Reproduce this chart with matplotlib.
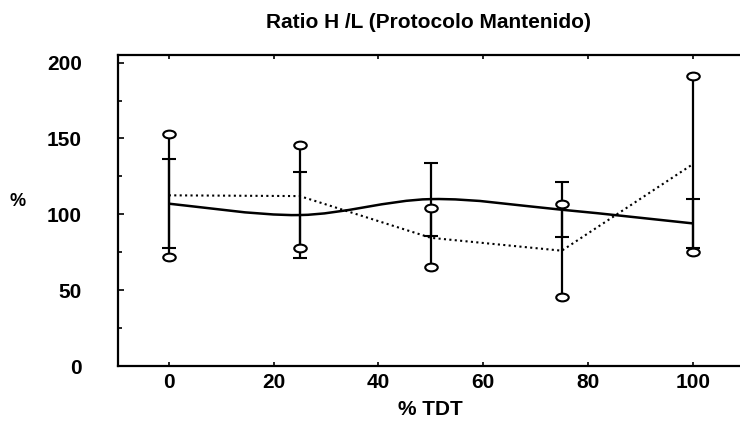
import numpy as np
import matplotlib
matplotlib.use("Agg")
from matplotlib import pyplot as plt
from matplotlib.path import Path
from matplotlib.patches import PathPatch
from matplotlib.transforms import Affine2D
from matplotlib.ticker import MultipleLocator

# % TDT
tdt = [0, 25, 50, 75, 100]

# serie continua (media y desviación)
ratio_a = [107, 99.5, 110, 103, 94]
sd_a = [29.5, 28.5, 24, 18, 16]

# serie punteada (media y desviación)
ratio_b = [112.5, 112, 84.5, 76, 133]
sd_b = [40.5, 34, 19.5, 30.5, 58]

x_ticks = [0, 20, 40, 60, 80, 100]
y_ticks = [0, 50, 100, 150, 200]

narrow = ['Liberation Sans Narrow', 'Liberation Sans', 'DejaVu Sans']
plt.rcParams['font.family'] = ['Liberation Sans', 'DejaVu Sans']


def smooth_path(xs, ys):
    # curva Catmull-Rom convertida en segmentos Bezier cúbicos
    p = np.column_stack([xs, ys]).astype(float)
    p = np.vstack([p[0], p, p[-1]])
    verts = [p[1]]
    codes = [Path.MOVETO]
    for i in range(1, len(p) - 2):
        c1 = p[i] + (p[i + 1] - p[i - 1]) / 6
        c2 = p[i + 1] - (p[i + 2] - p[i]) / 6
        verts += [c1, c2, p[i + 1]]
        codes += [Path.CURVE4] * 3
    return Path(verts, codes)


fig = plt.figure(figsize=(7.40, 4.21), dpi=100)
ax = fig.add_axes([118 / 740, 55 / 421, 624 / 740, 311 / 421])

# barras de la serie punteada, con óvalos en los extremos
oval = Path.unit_circle().transformed(Affine2D().scale(1, 0.62))
ax.errorbar(tdt, ratio_b, yerr=sd_b, fmt='none', ecolor='k', elinewidth=1.6, capsize=0, zorder=3)
ends_b = np.concatenate([np.array(ratio_b) - sd_b, np.array(ratio_b) + sd_b])
ax.plot(tdt + tdt, ends_b, linestyle='none', marker=oval, ms=9, mfc='white', mec='k', mew=1.5, zorder=4)

# barras de la serie continua, con remates horizontales
ax.errorbar(tdt, ratio_a, yerr=sd_a, fmt='none', ecolor='k', elinewidth=1.6,
            capsize=5, capthick=1.5, zorder=3)

ax.add_patch(PathPatch(smooth_path(tdt, ratio_a), fill=False, edgecolor='k', lw=1.8, zorder=2))
ax.plot(tdt, ratio_b, color='k', lw=1.5, linestyle=(0, (1, 1.6)), zorder=2)

ax.set_xlim(-9.7, 109.4)
ax.set_ylim(0, 205)
ax.set_xticks(x_ticks)
ax.set_yticks(y_ticks)
ax.yaxis.set_minor_locator(MultipleLocator(25))
ax.tick_params(axis='both', which='both', direction='in', top=True, width=1.2, color='k')
ax.tick_params(axis='x', length=3, pad=5)
ax.tick_params(axis='y', which='major', length=4, pad=26)
ax.tick_params(axis='y', which='minor', length=3)
for lab in ax.get_xticklabels() + ax.get_yticklabels():
    lab.set_family(narrow)
    lab.set_fontweight('bold')
    lab.set_fontsize(15)
for s in ax.spines.values():
    s.set_linewidth(1.6)

ax.set_xlabel('% TDT', family=narrow, fontweight='bold', fontsize=15, labelpad=6)
ax.set_ylabel('%', family=narrow, fontweight='bold', fontsize=13, rotation=0, labelpad=0)
ax.yaxis.set_label_coords(-100 / 624, 0.5)
fig.text(428 / 740, 1 - 22 / 421, 'Ratio H /L (Protocolo Mantenido)', ha='center', va='center',
         fontweight='bold', fontsize=15)

fig.savefig('out.png', dpi=100)
